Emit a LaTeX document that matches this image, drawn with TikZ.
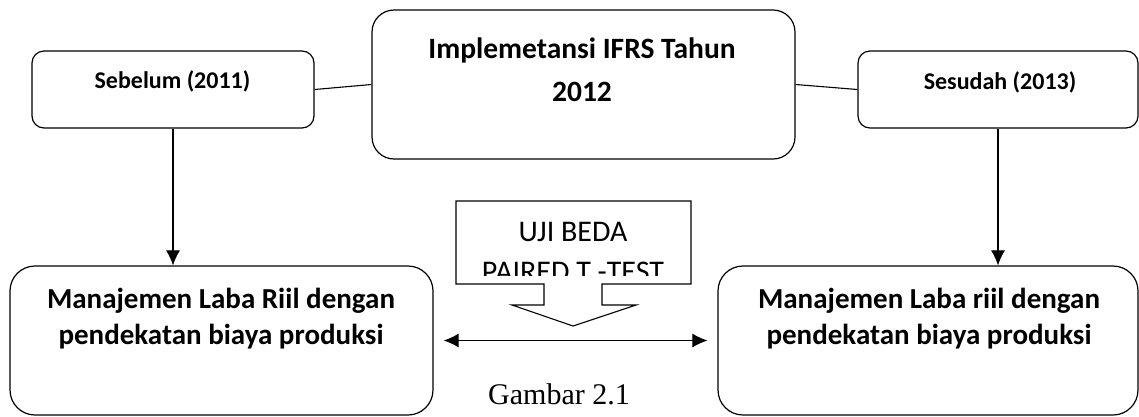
\documentclass[tikz,border=0pt]{standalone}
\usepackage{fontspec}
\setmainfont{Carlito}
\newfontfamily\timesfont{Liberation Serif}
\usetikzlibrary{arrows.meta}

\tikzset{
  kotak/.style={draw, line width=1.2pt, inner sep=0pt},
  judul/.style={inner sep=0pt, align=center, anchor=base},
  panah/.style={line width=1.1pt, -{Latex[length=15pt,width=14pt]}},
}

\begin{document}
\begin{tikzpicture}[x=1pt, y=-1pt]
  \useasboundingbox (0,0) rectangle (1139,416);
  % Kotak atas
  \node[kotak, rounded corners=12pt, minimum width=282pt, minimum height=77pt] (sebelum) at (173,89.5) {};
  \node[kotak, rounded corners=22pt, minimum width=423pt, minimum height=149pt] (ifrs) at (583.5,84.5) {};
  \node[kotak, rounded corners=12pt, minimum width=280pt, minimum height=77pt] (sesudah) at (998,89.5) {};
  % Kotak bawah
  \node[kotak, rounded corners=25pt, minimum width=423pt, minimum height=149pt] (kiri) at (221.5,340.5) {};
  \node[kotak, rounded corners=25pt, minimum width=420pt, minimum height=149pt] (kanan) at (928,340.5) {};
  % Teks (base = baris terakhir)
  \node[judul, font=\bfseries\fontsize{24}{28}\selectfont] (sebelumteks) at (172.5,88) {Sebelum (2011)};
  \node[judul, font=\bfseries\fontsize{24}{28}\selectfont] (sesudahteks) at (1000,89) {Sesudah (2013)};
  \node[judul, font=\bfseries\fontsize{29.5}{43}\selectfont] (ifrsteks) at (582,101) {Implemetansi IFRS Tahun\\2012};
  \node[judul, font=\bfseries\fontsize{29}{36}\selectfont] (kiriteks) at (221,344) {Manajemen Laba Riil dengan\\pendekatan biaya produksi};
  \node[judul, font=\bfseries\fontsize{29}{36}\selectfont] (kananteks) at (929,344) {Manajemen Laba riil dengan\\pendekatan biaya produksi};
  % Garis penghubung
  \draw[line width=1.1pt] (sebelum.east) -- (ifrs.west);
  \draw[line width=1.1pt] (ifrs.east) -- (sesudah.west);
  \draw[panah] (sebelum.south) -- (sebelum.south |- kiri.north);
  \draw[panah] (sesudah.south) -- (sesudah.south |- kanan.north);
  \draw[panah, {Latex[length=15pt,width=14pt]}-{Latex[length=15pt,width=14pt]}, shorten <=10pt, shorten >=10pt] (kiri) -- (kanan);
  % Panah uji beda
  \draw[line width=1.1pt] (456,201) -- (691,201) -- (691,284) -- (602,284) -- (602,305) -- (636,305)
    -- (573,326) -- (512,305) -- (544,305) -- (544,284) -- (456,284) -- cycle;
  \begin{scope}
    \clip (458,203) rectangle (689,275);
    \node[judul, font=\fontsize{30}{40}\selectfont] (ujibeda) at (573,281) {UJI BEDA\\PAIRED T -TEST};
  \end{scope}
  % Keterangan
  \node[judul, font=\timesfont\fontsize{30}{34}\selectfont] (gambar) at (559,404) {Gambar 2.1};
\end{tikzpicture}
\end{document}
